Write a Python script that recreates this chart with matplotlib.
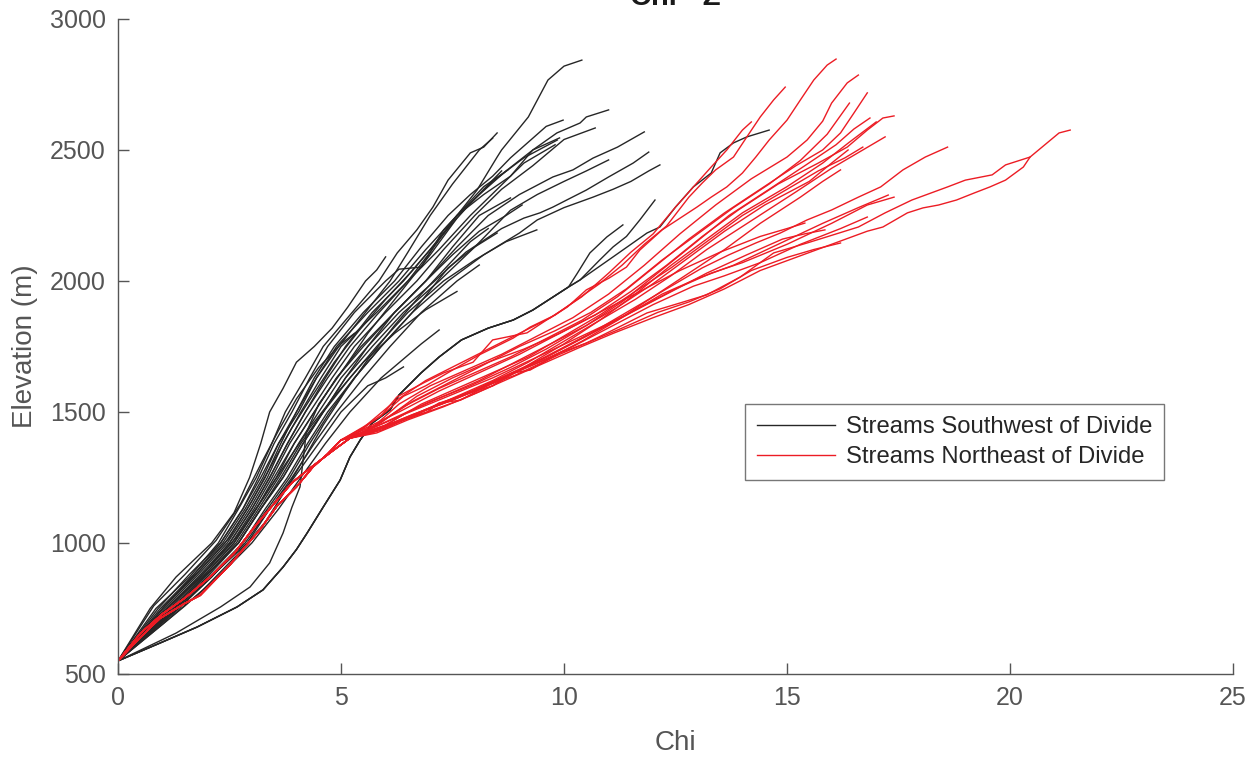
import matplotlib
matplotlib.use('Agg')
import matplotlib.pyplot as plt

plt.rcParams['font.family'] = ['Liberation Sans', 'DejaVu Sans']

# Chi (m) and elevation (m) along each stream profile, outlet at (0, 550)
# --- streams southwest of the divide ---
sw_01 = [(0, 550), (0.72, 750), (1.3, 870), (2.1, 1000), (2.6, 1115), (2.95, 1250), (3.2, 1380), (3.4, 1500),
         (3.7, 1590), (4.0, 1690), (4.4, 1750), (4.8, 1820), (5.15, 1900), (5.55, 2000), (5.8, 2042), (6.0, 2092)]
sw_02 = [(0, 550), (0.9, 750), (1.6, 880), (2.3, 1000), (2.8, 1130), (3.15, 1250), (3.5, 1380), (3.9, 1500),
         (4.3, 1630), (4.7, 1750), (5.3, 1880), (6.0, 2000), (6.3, 2045), (6.8, 2053), (7.3, 2195), (7.6, 2250),
         (8.05, 2347), (8.5, 2473), (8.6, 2500), (9.2, 2626), (9.64, 2767), (10.0, 2820), (10.4, 2843)]
sw_03 = [(0, 550), (0.85, 750), (1.6, 870), (2.25, 1000), (2.7, 1130), (3.1, 1250), (3.45, 1380), (3.75, 1500),
         (4.2, 1630), (4.6, 1750), (5.2, 1870), (5.85, 2000), (6.26, 2107), (6.7, 2195), (7.06, 2282), (7.4, 2385),
         (7.9, 2489), (8.2, 2511), (8.5, 2565)]
sw_04 = [(0, 550), (1.0, 750), (1.7, 870), (2.4, 1000), (2.9, 1130), (3.3, 1250), (3.65, 1380), (4.0, 1500),
         (4.45, 1630), (4.95, 1750), (5.5, 1870), (6.1, 2000), (6.5, 2110), (7.0, 2250), (7.5, 2370), (8.1, 2500),
         (8.4, 2545)]
sw_05 = [(0, 550), (1.1, 750), (1.8, 860), (2.5, 1000), (3.0, 1130), (3.4, 1250), (3.8, 1380), (4.2, 1500),
         (4.7, 1630), (5.2, 1750), (5.8, 1870), (6.5, 2000), (7.0, 2110), (7.6, 2250), (8.2, 2360), (8.74, 2424)]
sw_06 = [(0, 550), (1.2, 750), (1.9, 870), (2.6, 1000), (3.1, 1130), (3.55, 1250), (3.95, 1380), (4.4, 1500),
         (4.9, 1630), (5.5, 1750), (6.2, 1880), (6.9, 2000), (7.5, 2100), (8.1, 2190), (8.7, 2250), (9.06, 2290)]
sw_07 = [(0, 550), (1.25, 750), (2.0, 880), (2.7, 1000), (3.2, 1130), (3.65, 1250), (4.1, 1380), (4.6, 1500),
         (5.2, 1630), (5.8, 1750), (6.5, 1880), (7.3, 2000), (8.0, 2080), (8.7, 2150), (9.39, 2195)]
sw_08 = [(0, 550), (0.95, 750), (1.7, 880), (2.35, 1000), (2.85, 1130), (3.25, 1250), (3.6, 1380), (4.05, 1500),
         (4.45, 1630), (4.9, 1750), (5.6, 1880), (6.3, 2000), (6.9, 2120), (7.6, 2250), (8.2, 2330), (8.8, 2400),
         (9.3, 2500), (9.9, 2546)]
sw_09 = [(0, 550), (1.05, 750), (1.8, 880), (2.45, 1000), (2.95, 1130), (3.35, 1250), (3.7, 1380), (4.1, 1500),
         (4.55, 1630), (5.0, 1750), (5.8, 1880), (6.5, 2000), (7.2, 2120), (7.9, 2250), (8.5, 2350), (9.1, 2450),
         (9.8, 2520)]
sw_10 = [(0, 550), (1.0, 750), (1.65, 870), (2.3, 1000), (2.8, 1130), (3.2, 1250), (3.6, 1380), (4.0, 1500),
         (4.4, 1630), (4.85, 1750), (5.5, 1880), (6.2, 2000), (6.8, 2130), (7.4, 2250), (7.9, 2330), (8.4, 2400),
         (8.8, 2470), (9.2, 2530), (9.6, 2590), (9.98, 2614)]
sw_11 = [(0, 550), (1.1, 750), (1.85, 880), (2.5, 1000), (3.0, 1130), (3.4, 1250), (3.8, 1380), (4.2, 1500),
         (4.65, 1630), (5.1, 1750), (5.7, 1880), (6.4, 2000), (7.0, 2120), (7.6, 2250), (8.1, 2330), (8.7, 2420),
         (9.3, 2500), (9.84, 2565), (10.36, 2603), (10.5, 2626), (11.0, 2653)]
sw_12 = [(0, 550), (1.15, 750), (1.9, 880), (2.55, 1000), (3.05, 1130), (3.45, 1250), (3.85, 1380), (4.3, 1500),
         (4.8, 1630), (5.3, 1750), (6.0, 1880), (6.7, 2000), (7.3, 2120), (8.0, 2250), (8.6, 2350), (9.3, 2440),
         (10.0, 2540), (10.7, 2584)]
sw_13 = [(0, 550), (1.2, 750), (1.95, 880), (2.6, 1000), (3.1, 1130), (3.5, 1250), (3.95, 1380), (4.4, 1500),
         (4.9, 1630), (5.45, 1750), (6.2, 1880), (6.9, 2000), (7.6, 2130), (8.3, 2250), (9.0, 2330), (9.75, 2397),
         (10.2, 2424), (10.65, 2469), (11.2, 2511), (11.8, 2569)]
sw_14 = [(0, 550), (1.25, 750), (2.0, 880), (2.65, 1000), (3.15, 1130), (3.6, 1250), (4.05, 1380), (4.5, 1500),
         (5.0, 1630), (5.6, 1750), (6.3, 1880), (7.1, 2000), (7.8, 2110), (8.6, 2200), (9.1, 2240), (9.46, 2260),
         (9.75, 2282), (10.06, 2309), (10.5, 2347), (11.0, 2397), (11.55, 2450), (11.9, 2492)]
sw_15 = [(0, 550), (1.3, 750), (2.05, 880), (2.7, 1000), (3.2, 1130), (3.7, 1250), (4.15, 1380), (4.6, 1500),
         (5.1, 1630), (5.7, 1750), (6.4, 1880), (7.2, 2000), (8.0, 2130), (8.8, 2270), (9.4, 2330), (10.0, 2380),
         (10.5, 2420), (11.0, 2462)]
sw_16 = [(0, 550), (1.3, 750), (2.1, 880), (2.8, 1000), (3.3, 1130), (3.8, 1250), (4.25, 1380), (4.7, 1500),
         (5.3, 1630), (5.9, 1750), (6.6, 1880), (7.4, 2000), (8.2, 2100), (9.0, 2183), (9.4, 2233), (10.0, 2280),
         (10.65, 2320), (11.1, 2350), (11.5, 2380), (11.9, 2420), (12.15, 2443)]
sw_20 = [(0, 550), (1.3, 740), (2.1, 870), (2.8, 1000), (3.35, 1130), (3.85, 1250), (4.3, 1380), (4.75, 1500),
         (5.3, 1630), (5.9, 1750), (6.6, 1880), (7.4, 2050), (8.0, 2130), (8.5, 2183)]
sw_21 = [(0, 550), (1.2, 740), (2.0, 880), (2.7, 1000), (3.2, 1130), (3.7, 1250), (4.15, 1380), (4.6, 1500),
         (5.1, 1630), (5.6, 1750), (6.2, 1880), (6.9, 2000), (7.5, 2130), (8.1, 2250), (8.8, 2317)]
sw_22 = [(0, 550), (1.4, 760), (2.2, 890), (2.9, 1000), (3.4, 1130), (3.9, 1250), (4.4, 1380), (4.9, 1500),
         (5.5, 1630), (6.1, 1750), (6.8, 1880), (7.6, 2000), (8.1, 2061)]
sw_23 = [(0, 550), (1.5, 760), (2.3, 880), (3.0, 1000), (3.6, 1130), (4.1, 1250), (4.65, 1380), (5.2, 1500),
         (5.9, 1630), (6.8, 1760), (7.2, 1813)]
sw_24 = [(0, 550), (1.35, 750), (2.15, 880), (2.85, 1000), (3.4, 1130), (3.95, 1250), (4.5, 1380), (5.0, 1500),
         (5.6, 1600), (6.0, 1630), (6.4, 1672)]
sw_25 = [(0, 550), (1.3, 656), (2.3, 756), (2.96, 832), (3.4, 924), (3.7, 1038), (3.9, 1137), (4.08, 1214),
         (4.15, 1317), (4.22, 1420), (4.5, 1530), (5.0, 1650), (5.6, 1800), (6.3, 1950), (7.0, 2100), (7.6, 2240),
         (8.2, 2350), (8.6, 2420)]
sw_26 = [(0, 550), (1.0, 690), (1.9, 820), (2.7, 960), (3.3, 1080), (3.75, 1200), (4.2, 1330), (4.6, 1450),
         (5.1, 1580), (5.6, 1700), (6.2, 1830), (6.8, 1950), (7.4, 2060), (7.9, 2150), (8.3, 2200)]
sw_27 = [(0, 550), (0.8, 760), (1.5, 880), (2.2, 1010), (2.75, 1150), (3.2, 1300), (3.6, 1430), (4.0, 1550),
         (4.5, 1670), (5.0, 1760), (5.3, 1800)]
sw_28 = [(0, 550), (1.15, 760), (1.95, 890), (2.65, 1020), (3.25, 1170), (3.75, 1300), (4.3, 1440), (4.85, 1560),
         (5.5, 1690), (6.2, 1800), (6.9, 1890), (7.6, 1960)]
sw_29 = [(0, 550), (1.05, 760), (1.8, 890), (2.5, 1020), (3.0, 1160), (3.45, 1300), (3.9, 1440), (4.35, 1560),
         (4.85, 1690), (5.4, 1810), (6.0, 1930), (6.6, 2040), (7.2, 2160), (7.8, 2280), (8.4, 2380), (9.1, 2470),
         (9.85, 2538)]
# long low stream and the two tributaries that leave it near chi 10
sw_low_trunk = [(0, 550), (0.94, 618), (1.77, 679), (2.67, 756), (3.25, 821), (3.7, 908), (4.0, 975), (4.24, 1038),
                (4.6, 1137), (4.98, 1240), (5.2, 1328), (5.43, 1393), (5.7, 1458), (6.1, 1508), (6.3, 1565),
                (6.8, 1650), (7.2, 1710), (7.7, 1775), (8.3, 1820), (8.86, 1851), (9.3, 1889), (10.1, 1977)]
sw_17 = [(10.36, 2004), (11.1, 2092), (11.86, 2183), (12.15, 2206), (12.5, 2282), (12.9, 2359), (13.3, 2412),
         (13.5, 2489), (13.8, 2527), (14.1, 2550), (14.6, 2576)]
sw_18 = [(10.36, 2004), (10.8, 2080), (11.1, 2130), (11.4, 2170), (11.7, 2233), (12.04, 2309)]
sw_19 = [(10.3, 2030), (10.58, 2107), (10.96, 2168), (11.32, 2214)]

# --- streams northeast of the divide ---
ne_trunk_a = [(0, 550), (0.5, 640), (0.94, 712), (1.5, 770), (1.84, 800), (2.5, 915), (3.2, 1055), (3.56, 1140),
              (4.0, 1214), (4.37, 1290), (4.7, 1340), (5.0, 1393)]
ne_trunk_b = [(0, 550), (0.5, 655), (1.0, 730), (1.5, 790), (2.06, 870), (2.6, 960), (3.1, 1070), (3.5, 1150),
              (3.9, 1230), (4.3, 1285), (4.8, 1350), (5.2, 1400)]
ne_01 = [(5.5, 1443), (5.9, 1485), (6.25, 1557), (6.85, 1611), (7.3, 1649), (7.96, 1690), (8.4, 1775), (9.17, 1802),
         (9.6, 1850), (10.07, 1900), (10.5, 1966), (11.0, 2010), (11.4, 2053), (11.7, 2118), (12.2, 2195),
         (12.98, 2282), (13.3, 2320), (13.65, 2359), (14.0, 2412), (14.3, 2473), (14.6, 2538), (15.0, 2614),
         (15.3, 2691), (15.6, 2767), (15.9, 2824), (16.1, 2847)]
ne_02 = [(5.6, 1450), (6.0, 1500), (6.4, 1560), (6.9, 1600), (7.5, 1660), (8.1, 1718), (8.86, 1782), (9.24, 1824),
         (9.8, 1870), (10.3, 1930), (10.8, 1990), (11.3, 2060), (11.8, 2140), (12.3, 2210), (12.8, 2320),
         (13.1, 2374), (13.4, 2424), (13.8, 2473), (14.1, 2550), (14.4, 2626), (14.7, 2691), (14.96, 2740)]
ne_03 = [(5.5, 1440), (6.2, 1540), (6.9, 1620), (7.6, 1680), (8.3, 1740), (9.0, 1800), (9.7, 1860), (10.4, 1940),
         (11.0, 2030), (11.5, 2110), (12.0, 2180), (12.5, 2282), (12.9, 2359), (13.3, 2435), (13.65, 2500),
         (14.0, 2576), (14.2, 2607)]
ne_04 = [(5.7, 1440), (6.3, 1530), (7.0, 1600), (7.8, 1660), (8.6, 1720), (9.4, 1790), (10.2, 1860), (11.0, 1950),
         (11.8, 2060), (12.6, 2180), (13.4, 2290), (14.2, 2390), (15.0, 2473), (15.45, 2538), (15.8, 2610),
         (16.0, 2679), (16.35, 2756), (16.6, 2786)]
ne_05 = [(5.6, 1430), (6.4, 1520), (7.2, 1590), (8.0, 1650), (8.8, 1710), (9.6, 1780), (10.4, 1850), (11.2, 1940),
         (12.0, 2050), (12.8, 2160), (13.6, 2260), (14.4, 2350), (15.2, 2440), (15.8, 2500), (16.2, 2565),
         (16.5, 2641), (16.8, 2718)]
ne_06 = [(5.8, 1450), (6.6, 1540), (7.4, 1610), (8.2, 1680), (9.0, 1750), (9.8, 1810), (10.6, 1880), (11.4, 1970),
         (12.2, 2080), (13.0, 2180), (13.8, 2280), (14.6, 2370), (15.3, 2460), (15.9, 2560), (16.4, 2679)]
ne_07 = [(5.9, 1460), (6.7, 1560), (7.5, 1630), (8.3, 1690), (9.1, 1740), (9.9, 1800), (10.7, 1870), (11.5, 1960),
         (12.3, 2060), (13.1, 2170), (13.9, 2270), (14.8, 2370), (15.7, 2450), (16.35, 2511), (16.8, 2576),
         (17.15, 2622), (17.4, 2630)]
ne_08 = [(5.7, 1420), (6.5, 1500), (7.3, 1560), (8.1, 1620), (8.9, 1690), (9.7, 1760), (10.5, 1830), (11.3, 1920),
         (12.1, 2030), (12.9, 2140), (13.7, 2250), (14.6, 2350), (15.4, 2440), (16.1, 2520), (16.5, 2580),
         (16.86, 2622)]
ne_09 = [(5.65, 1420), (6.17, 1458), (6.93, 1500), (7.67, 1545), (8.4, 1600), (9.2, 1680), (10.0, 1760),
         (10.8, 1850), (11.6, 1950), (12.4, 2060), (13.2, 2160), (14.0, 2260), (15.0, 2360), (15.8, 2450),
         (16.4, 2530), (17.0, 2607)]
ne_10 = [(5.9, 1430), (6.8, 1500), (7.6, 1560), (8.4, 1620), (9.2, 1690), (10.0, 1770), (10.8, 1850), (11.6, 1930),
         (12.4, 2020), (13.2, 2120), (14.2, 2230), (15.2, 2340), (16.0, 2430), (16.7, 2500), (17.2, 2550)]
ne_11 = [(6.0, 1450), (6.8, 1530), (7.6, 1590), (8.4, 1650), (9.2, 1710), (10.0, 1790), (10.8, 1870), (11.6, 1960),
         (12.4, 2050), (13.2, 2150), (14.0, 2250), (14.8, 2330), (15.7, 2420), (16.3, 2470), (16.7, 2511)]
ne_12 = [(6.1, 1470), (7.0, 1540), (7.9, 1600), (8.8, 1670), (9.6, 1740), (10.4, 1820), (11.2, 1900), (12.0, 1990),
         (12.8, 2090), (13.6, 2190), (14.5, 2290), (15.5, 2380), (16.0, 2450), (16.37, 2500)]
ne_13 = [(5.65, 1420), (6.6, 1481), (7.2, 1534), (8.1, 1584), (8.86, 1649), (9.6, 1700), (10.4, 1770), (11.2, 1850),
         (12.0, 1940), (12.8, 2030), (13.6, 2120), (14.4, 2220), (15.3, 2320), (15.8, 2380), (16.2, 2424)]
ne_14 = [(5.65, 1420), (6.17, 1458), (6.6, 1481), (6.93, 1500), (7.2, 1534), (7.67, 1545), (8.1, 1584), (8.4, 1600),
         (8.86, 1649), (9.24, 1660), (9.9, 1725), (10.5, 1763), (11.1, 1813), (11.86, 1878), (12.6, 1916),
         (13.2, 1947), (13.95, 2015), (14.7, 2107), (15.45, 2145), (16.6, 2206), (17.2, 2260), (17.8, 2309),
         (18.6, 2359), (19.0, 2385), (19.6, 2405), (19.9, 2443), (20.45, 2473), (21.1, 2565), (21.35, 2576)]
ne_15 = [(5.8, 1420), (6.5, 1470), (7.3, 1520), (8.0, 1570), (8.8, 1630), (9.6, 1690), (10.4, 1750), (11.1, 1800),
         (12.0, 1860), (12.8, 1910), (13.6, 1970), (14.4, 2040), (15.2, 2090), (16.0, 2140), (16.8, 2190),
         (17.15, 2206), (17.7, 2260), (18.05, 2279), (18.4, 2290), (18.8, 2309), (19.2, 2336), (19.55, 2359),
         (19.9, 2385), (20.3, 2435), (20.45, 2473)]
ne_16 = [(6.0, 1440), (6.9, 1510), (7.8, 1570), (8.7, 1640), (9.6, 1710), (10.5, 1790), (11.4, 1880), (12.3, 1970),
         (13.1, 2050), (13.7, 2100), (14.3, 2145), (14.85, 2183), (15.45, 2233), (16.0, 2271), (16.6, 2320),
         (17.1, 2359), (17.6, 2424), (18.1, 2473), (18.6, 2511)]
ne_17 = [(6.2, 1460), (7.1, 1520), (8.0, 1580), (8.9, 1650), (9.8, 1730), (10.7, 1810), (11.6, 1890), (12.5, 1970),
         (13.3, 2030), (14.0, 2070), (15.0, 2140), (16.0, 2220), (16.8, 2290), (17.4, 2320)]
ne_18 = [(5.9, 1440), (6.8, 1500), (7.7, 1560), (8.6, 1630), (9.5, 1700), (10.4, 1780), (11.3, 1860), (12.2, 1950),
         (13.0, 2010), (13.8, 2060), (14.8, 2140), (15.8, 2220), (16.6, 2280), (17.27, 2328)]
ne_19 = [(5.7, 1425), (6.6, 1490), (7.5, 1545), (8.4, 1610), (9.3, 1680), (10.2, 1750), (11.1, 1830), (12.0, 1910),
         (12.9, 1980), (13.6, 2020), (14.4, 2070), (15.3, 2140), (16.2, 2200), (16.8, 2244)]
ne_20 = [(6.17, 1460), (7.2, 1530), (8.1, 1590), (8.9, 1640), (9.9, 1720), (10.6, 1770), (11.3, 1820), (12.1, 1880),
         (12.8, 1920), (13.5, 1970), (14.2, 2040), (15.0, 2090), (15.6, 2120), (16.2, 2145)]
ne_21 = [(6.3, 1500), (7.2, 1580), (8.1, 1650), (9.0, 1720), (9.9, 1800), (10.8, 1880), (11.7, 1960), (12.6, 2040),
         (13.5, 2110), (14.4, 2170), (15.0, 2200), (15.4, 2221)]
ne_22 = [(6.4, 1490), (7.4, 1560), (8.4, 1630), (9.4, 1710), (10.4, 1790), (11.4, 1870), (12.3, 1950), (13.2, 2030),
         (14.1, 2100), (14.9, 2160), (15.4, 2180), (15.85, 2195)]

sw_streams = [sw_01, sw_02, sw_03, sw_04, sw_05, sw_06, sw_07, sw_08, sw_09, sw_10, sw_11, sw_12, sw_13, sw_14,
              sw_15, sw_16, sw_20, sw_21, sw_22, sw_23, sw_24, sw_25, sw_26, sw_27, sw_28, sw_29,
              sw_low_trunk + sw_17, sw_low_trunk + sw_18, sw_low_trunk + sw_19]
ne_streams = [ne_trunk_a + ne_01, ne_trunk_b + ne_02, ne_trunk_a + ne_03, ne_trunk_b + ne_04, ne_trunk_a + ne_05,
              ne_trunk_b + ne_06, ne_trunk_a + ne_07, ne_trunk_b + ne_08, ne_trunk_a + ne_09, ne_trunk_b + ne_10,
              ne_trunk_a + ne_11, ne_trunk_b + ne_12, ne_trunk_a + ne_13, ne_trunk_b + ne_14, ne_trunk_a + ne_15,
              ne_trunk_b + ne_16, ne_trunk_a + ne_17, ne_trunk_b + ne_18, ne_trunk_a + ne_19, ne_trunk_b + ne_20,
              ne_trunk_a + ne_21, ne_trunk_b + ne_22]

sw_color = '#262626'
ne_color = '#ec1c24'
axis_grey = '#555555'

fig = plt.figure(figsize=(12.57, 7.59), dpi=100)
ax = fig.add_axes([0.0939, 0.1120, 0.8870, 0.8630])

for i, stream in enumerate(sw_streams):
    chi, z = zip(*stream)
    ax.plot(chi, z, color=sw_color, lw=1.0, label='Streams Southwest of Divide' if i == 0 else None)
for i, stream in enumerate(ne_streams):
    chi, z = zip(*stream)
    ax.plot(chi, z, color=ne_color, lw=1.0, label='Streams Northeast of Divide' if i == 0 else None)

ax.set_xlim(0, 25)
ax.set_ylim(500, 3000)
ax.set_xticks([0, 5, 10, 15, 20, 25])
ax.set_yticks([500, 1000, 1500, 2000, 2500, 3000])
ax.spines['top'].set_visible(False)
ax.spines['right'].set_visible(False)
for side in ['left', 'bottom']:
    ax.spines[side].set_color(axis_grey)
    ax.spines[side].set_linewidth(1.0)
ax.tick_params(direction='in', length=8, width=1.0, color=axis_grey, labelcolor=axis_grey, labelsize=18)
ax.tick_params(axis='x', pad=9)
ax.tick_params(axis='y', pad=9)

ax.set_xlabel('Chi', fontsize=20, color=axis_grey, labelpad=14)
ax.set_ylabel('Elevation (m)', fontsize=20, color=axis_grey, labelpad=8)
ax.set_title('Chi - Z', fontsize=21, fontweight='bold', color='#1a1a1a', pad=10)

leg = ax.legend(loc='upper left', bbox_to_anchor=(0.562, 0.412), fontsize=17.2, frameon=True, fancybox=False,
                handlelength=3.3, handletextpad=0.45, borderpad=0.5, labelspacing=0.35, borderaxespad=0)
leg.get_frame().set_edgecolor(axis_grey)
leg.get_frame().set_linewidth(1.0)
for text in leg.get_texts():
    text.set_color('#262626')

fig.savefig('out.png', dpi=100)
